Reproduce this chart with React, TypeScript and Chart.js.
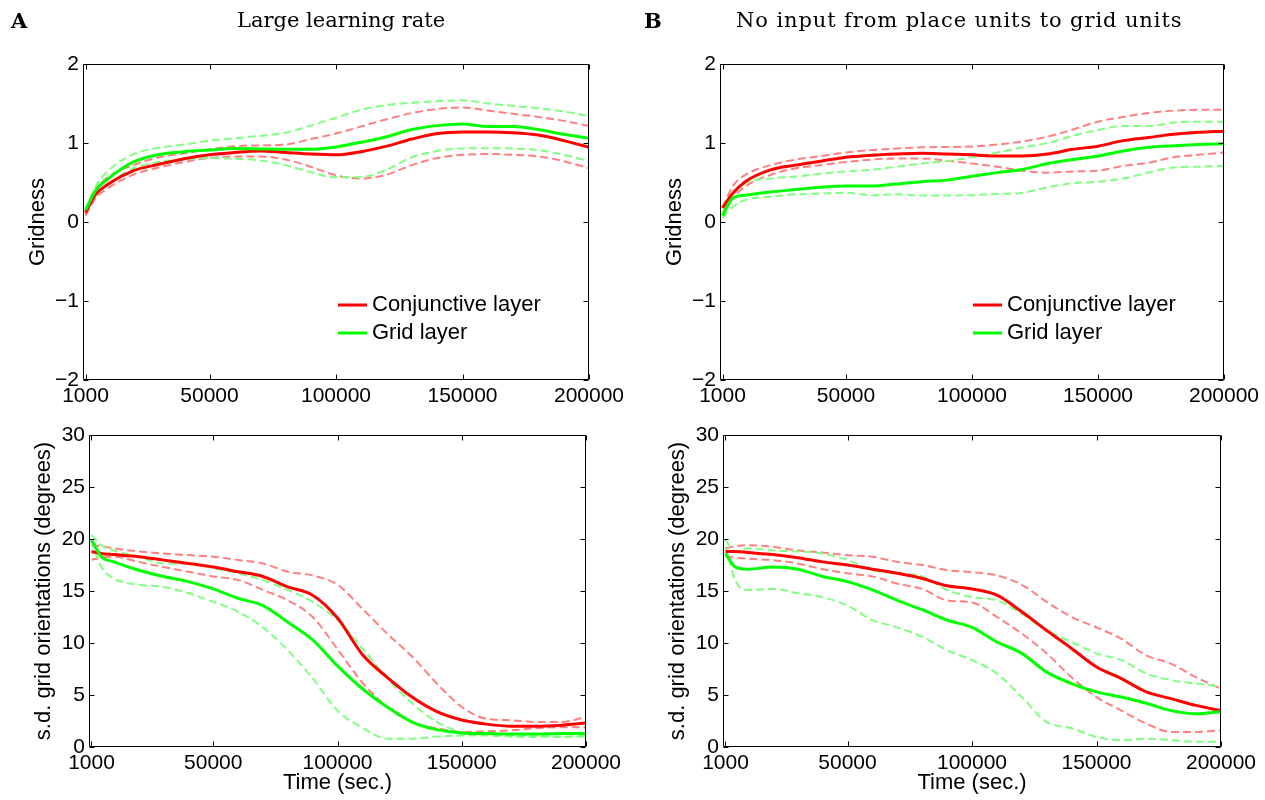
import React, { useEffect, useRef } from "react";
import { Chart, registerables } from "chart.js";

Chart.register(...registerables);

// ---------- shared axis data ----------
const timeSteps = [
  1000, 5000, 10000, 20000, 30000, 40000, 50000, 60000, 70000, 80000, 90000,
  100000, 110000, 120000, 130000, 140000, 150000, 160000, 170000, 180000, 190000, 200000,
];
const xTickValues = [1000, 50000, 100000, 150000, 200000];
const gridnessTicks = [-2, -1, 0, 1, 2];
const orientationTicks = [0, 5, 10, 15, 20, 25, 30];

const panelTitles = ["Large learning rate", "No input from place units to grid units"];
const panelLetters = ["A", "B"];
const seriesLabels = ["Conjunctive layer", "Grid layer"];
const yTitleTop = "Gridness";
const yTitleBottom = "s.d. grid orientations (degrees)";
const xTitleBottom = "Time (sec.)";

// ---------- Panel A, gridness ----------
const aGridMean = [0.15, 0.4, 0.55, 0.76, 0.855, 0.89, 0.91, 0.93, 0.925, 0.92, 0.92, 0.95, 1.01, 1.08, 1.17, 1.22, 1.24, 1.21, 1.21, 1.17, 1.11, 1.06];
const aGridUpper = [0.15, 0.45, 0.65, 0.86, 0.94, 0.98, 1.03, 1.06, 1.09, 1.13, 1.22, 1.32, 1.42, 1.48, 1.51, 1.53, 1.54, 1.5, 1.47, 1.44, 1.4, 1.34];
const aGridLower = [0.15, 0.33, 0.48, 0.68, 0.76, 0.79, 0.81, 0.8, 0.78, 0.72, 0.63, 0.565, 0.57, 0.66, 0.82, 0.9, 0.93, 0.935, 0.93, 0.91, 0.85, 0.77];
const aConjMean = [0.12, 0.35, 0.48, 0.65, 0.73, 0.8, 0.85, 0.88, 0.9, 0.88, 0.86, 0.85, 0.89, 0.96, 1.05, 1.12, 1.14, 1.14, 1.13, 1.1, 1.03, 0.945];
const aConjUpper = [0.1, 0.4, 0.57, 0.72, 0.82, 0.87, 0.92, 0.96, 0.97, 0.98, 1.05, 1.12, 1.21, 1.3, 1.38, 1.43, 1.45, 1.41, 1.37, 1.33, 1.28, 1.215];
const aConjLower = [0.08, 0.3, 0.43, 0.6, 0.69, 0.76, 0.81, 0.83, 0.83, 0.79, 0.7, 0.59, 0.55, 0.6, 0.72, 0.81, 0.85, 0.86, 0.85, 0.83, 0.77, 0.68];

// ---------- Panel B, gridness ----------
const bGridMean = [0.08, 0.3, 0.34, 0.38, 0.41, 0.44, 0.455, 0.455, 0.48, 0.51, 0.53, 0.58, 0.625, 0.665, 0.74, 0.79, 0.835, 0.9, 0.945, 0.965, 0.98, 0.99];
const bGridUpper = [0.1, 0.34, 0.49, 0.55, 0.575, 0.61, 0.64, 0.66, 0.7, 0.74, 0.77, 0.82, 0.88, 0.945, 1.0, 1.09, 1.165, 1.215, 1.215, 1.26, 1.27, 1.27];
const bGridLower = [0.05, 0.19, 0.28, 0.32, 0.35, 0.36, 0.37, 0.34, 0.35, 0.335, 0.335, 0.34, 0.355, 0.37, 0.44, 0.49, 0.51, 0.55, 0.625, 0.69, 0.7, 0.71];
const bConjMean = [0.18, 0.36, 0.51, 0.66, 0.72, 0.77, 0.82, 0.845, 0.86, 0.87, 0.86, 0.85, 0.835, 0.835, 0.86, 0.92, 0.96, 1.03, 1.07, 1.11, 1.135, 1.15];
const bConjUpper = [0.18, 0.45, 0.595, 0.72, 0.79, 0.835, 0.88, 0.91, 0.93, 0.945, 0.95, 0.955, 0.98, 1.02, 1.08, 1.17, 1.27, 1.33, 1.38, 1.41, 1.42, 1.42];
const bConjLower = [0.12, 0.3, 0.45, 0.595, 0.68, 0.72, 0.76, 0.79, 0.805, 0.805, 0.775, 0.74, 0.7, 0.65, 0.625, 0.64, 0.65, 0.71, 0.75, 0.82, 0.85, 0.88];

// ---------- Panel A, orientation s.d. ----------
const aOriGridMean = [19.9, 18.3, 17.8, 17.0, 16.4, 15.9, 15.2, 14.3, 13.6, 12.0, 10.3, 7.8, 5.6, 3.85, 2.4, 1.67, 1.35, 1.3, 1.25, 1.25, 1.3, 1.3];
const aOriGridUpper = [20.4, 19.4, 18.9, 18.3, 17.65, 17.65, 17.2, 16.7, 16.05, 15.1, 13.95, 12.2, 9.5, 6.6, 4.2, 2.4, 1.45, 1.3, 1.1, 1.1, 1.0, 1.1];
const aOriGridLower = [19.9, 17.3, 16.2, 15.6, 15.4, 14.8, 13.95, 13.0, 11.5, 9.3, 6.6, 3.5, 1.85, 0.8, 0.8, 1.0, 1.1, 1.1, 1.0, 0.96, 0.96, 1.0];
const aOriConjMean = [18.8, 18.6, 18.5, 18.3, 17.97, 17.65, 17.3, 16.85, 16.4, 15.4, 14.6, 12.4, 8.9, 6.7, 4.8, 3.4, 2.6, 2.2, 2.0, 2.0, 2.1, 2.3];
const aOriConjUpper = [19.4, 19.3, 19.1, 18.8, 18.6, 18.45, 18.3, 17.97, 17.65, 16.85, 16.5, 15.6, 13.3, 10.9, 8.7, 6.1, 3.85, 2.7, 2.57, 2.4, 2.4, 2.9];
const aOriConjLower = [18.0, 18.2, 18.3, 17.8, 17.3, 16.85, 16.4, 16.05, 15.1, 14.1, 12.5, 9.4, 6.2, 3.85, 2.4, 1.8, 1.45, 1.5, 1.6, 1.8, 1.9, 1.9];

// ---------- Panel B, orientation s.d. ----------
const bOriGridMean = [18.6, 17.3, 17.1, 17.3, 17.1, 16.4, 15.9, 15.1, 14.1, 13.2, 12.2, 11.5, 10.1, 9.0, 7.2, 6.1, 5.3, 4.8, 4.2, 3.5, 3.2, 3.4];
const bOriGridUpper = [19.9, 18.8, 19.1, 18.9, 18.8, 18.6, 17.97, 17.0, 16.7, 16.4, 15.1, 14.4, 14.1, 12.8, 11.2, 10.1, 9.0, 8.35, 7.07, 6.43, 6.1, 5.8];
const bOriGridLower = [19.25, 16.0, 15.1, 15.2, 14.8, 14.4, 13.6, 12.2, 11.5, 10.6, 9.3, 8.35, 7.07, 4.8, 2.4, 1.8, 0.96, 0.65, 0.8, 0.65, 0.5, 0.5];
const bOriConjMean = [18.8, 18.8, 18.7, 18.5, 18.2, 17.8, 17.5, 17.1, 16.7, 16.2, 15.5, 15.2, 14.6, 13.0, 11.2, 9.47, 7.7, 6.58, 5.3, 4.65, 4.0, 3.5];
const bOriConjUpper = [19.1, 19.3, 19.4, 19.25, 18.9, 18.7, 18.45, 18.3, 17.8, 17.5, 17.0, 16.8, 16.5, 15.6, 13.95, 12.5, 11.5, 10.4, 8.8, 8.0, 6.7, 5.6];
const bOriConjLower = [18.3, 18.2, 18.1, 17.97, 17.65, 17.1, 16.7, 16.4, 15.7, 15.2, 14.1, 13.9, 12.5, 10.9, 9.0, 6.7, 4.8, 3.5, 2.25, 1.45, 1.45, 1.6];

// ---------- styling ----------
const RED = "rgb(255,0,0)";
const GREEN = "rgb(0,255,0)";
const RED_LIGHT = "rgb(255,128,128)";
const GREEN_LIGHT = "rgb(128,255,128)";
const SANS = "'Liberation Sans', Arial, Helvetica, sans-serif";
const SERIF = "'DejaVu Serif', serif";
const W = 1265;
const H = 800;
const Y_AXIS_W = 60;

type Area = { l: number; t: number; r: number; b: number };
type PanelCfg = {
  key: string;
  area: Area;
  yMin: number;
  yMax: number;
  yTicks: number[];
  yTitle: string;
  xTitle: string | null;
  legend: boolean;
  gridMean: number[];
  gridUpper: number[];
  gridLower: number[];
  conjMean: number[];
  conjUpper: number[];
  conjLower: number[];
};

const panels: PanelCfg[] = [
  {
    key: "aTop", area: { l: 83, t: 64, r: 589, b: 380 }, yMin: -2, yMax: 2, yTicks: gridnessTicks,
    yTitle: yTitleTop, xTitle: null, legend: true,
    gridMean: aGridMean, gridUpper: aGridUpper, gridLower: aGridLower,
    conjMean: aConjMean, conjUpper: aConjUpper, conjLower: aConjLower,
  },
  {
    key: "bTop", area: { l: 720, t: 64, r: 1224, b: 380 }, yMin: -2, yMax: 2, yTicks: gridnessTicks,
    yTitle: yTitleTop, xTitle: null, legend: true,
    gridMean: bGridMean, gridUpper: bGridUpper, gridLower: bGridLower,
    conjMean: bConjMean, conjUpper: bConjUpper, conjLower: bConjLower,
  },
  {
    key: "aBottom", area: { l: 89, t: 435, r: 586, b: 747 }, yMin: 0, yMax: 30, yTicks: orientationTicks,
    yTitle: yTitleBottom, xTitle: xTitleBottom, legend: false,
    gridMean: aOriGridMean, gridUpper: aOriGridUpper, gridLower: aOriGridLower,
    conjMean: aOriConjMean, conjUpper: aOriConjUpper, conjLower: aOriConjLower,
  },
  {
    key: "bBottom", area: { l: 723, t: 435, r: 1221, b: 747 }, yMin: 0, yMax: 30, yTicks: orientationTicks,
    yTitle: yTitleBottom, xTitle: xTitleBottom, legend: false,
    gridMean: bOriGridMean, gridUpper: bOriGridUpper, gridLower: bOriGridLower,
    conjMean: bOriConjMean, conjUpper: bOriConjUpper, conjLower: bOriConjLower,
  },
];

const toXY = (vals: number[]) => vals.map((v, i) => ({ x: timeSteps[i], y: v }));
const fmtNum = (v: number) => (v < 0 ? "\u2212" + Math.abs(v) : String(v));

function makeAxesPlugin(cfg: PanelCfg) {
  return {
    id: "matlabAxes_" + cfg.key,
    afterDraw(chart: any) {
      const ctx = chart.ctx as CanvasRenderingContext2D;
      const { left, right, top, bottom } = chart.chartArea;
      const L = Math.round(left) + 0.5;
      const R = Math.round(right) - 0.5;
      const T = Math.round(top) + 0.5;
      const B = Math.round(bottom) - 0.5;
      const tickLen = 5;
      ctx.save();
      ctx.strokeStyle = "#000";
      ctx.lineWidth = 1;
      ctx.beginPath();
      ctx.rect(L, T, R - L, B - T);
      const xs = chart.scales.x;
      for (const t of xs.ticks) {
        const px = Math.round(xs.getPixelForValue(t.value)) + 0.5;
        ctx.moveTo(px, B);
        ctx.lineTo(px, B - tickLen);
        ctx.moveTo(px, T);
        ctx.lineTo(px, T + tickLen);
      }
      const ys = chart.scales.y;
      for (const t of ys.ticks) {
        const py = Math.round(ys.getPixelForValue(t.value)) + 0.5;
        ctx.moveTo(L, py);
        ctx.lineTo(L + tickLen, py);
        ctx.moveTo(R, py);
        ctx.lineTo(R - tickLen, py);
      }
      ctx.stroke();

      if (cfg.legend) {
        const items = chart.data.datasets.filter((d: any) => d.showInLegend);
        items.sort((a: any, b: any) => a.legendOrder - b.legendOrder);
        ctx.font = "22px " + SANS;
        ctx.textBaseline = "middle";
        ctx.textAlign = "left";
        items.forEach((d: any, i: number) => {
          const y = bottom - 75 + i * 28;
          ctx.beginPath();
          ctx.strokeStyle = d.borderColor;
          ctx.lineWidth = 3;
          ctx.moveTo(right - 251, y);
          ctx.lineTo(right - 222, y);
          ctx.stroke();
          ctx.fillStyle = "#000";
          ctx.fillText(d.label, right - 217, y);
        });
      }
      ctx.restore();
    },
  };
}

function PanelChart({ cfg }: { cfg: PanelCfg }) {
  const ref = useRef<HTMLCanvasElement | null>(null);
  useEffect(() => {
    if (!ref.current) return;
    const xH = cfg.xTitle ? 52 : 45;
    const solid = (label: string, data: number[], color: string, legendOrder: number) => ({
      label, data: toXY(data), borderColor: color, backgroundColor: color, borderWidth: 3,
      pointRadius: 0, fill: false, cubicInterpolationMode: "monotone", showInLegend: true, legendOrder,
    });
    const dashed = (label: string, data: number[], color: string) => ({
      label, data: toXY(data), borderColor: color, backgroundColor: color, borderWidth: 2,
      borderDash: [8, 4], pointRadius: 0, fill: false, cubicInterpolationMode: "monotone", showInLegend: false,
    });
    const chart = new Chart(ref.current, {
      type: "line",
      data: {
        datasets: [
          solid(seriesLabels[1], cfg.gridMean, GREEN, 1),
          solid(seriesLabels[0], cfg.conjMean, RED, 0),
          dashed(seriesLabels[1] + " upper", cfg.gridUpper, GREEN_LIGHT),
          dashed(seriesLabels[1] + " lower", cfg.gridLower, GREEN_LIGHT),
          dashed(seriesLabels[0] + " upper", cfg.conjUpper, RED_LIGHT),
          dashed(seriesLabels[0] + " lower", cfg.conjLower, RED_LIGHT),
        ] as any,
      },
      options: {
        responsive: false,
        animation: false,
        devicePixelRatio: 1,
        events: [],
        layout: {
          padding: {
            left: cfg.area.l - Y_AXIS_W,
            top: cfg.area.t,
            right: W - cfg.area.r,
            bottom: H - cfg.area.b - xH,
          },
        },
        plugins: {
          legend: { display: false },
          tooltip: { enabled: false },
          title: { display: false },
        },
        scales: {
          x: {
            type: "linear",
            min: 0,
            max: 200000,
            afterBuildTicks: (s: any) => {
              s.ticks = xTickValues.map((v) => ({ value: v }));
            },
            afterFit: (s: any) => {
              s.height = xH;
            },
            grid: { display: false, drawTicks: false },
            border: { display: false },
            ticks: {
              autoSkip: false,
              maxRotation: 0,
              padding: 4,
              color: "#000",
              font: { family: SANS, size: 21 },
              callback: (v: any) => String(v),
            },
            title: {
              display: !!cfg.xTitle,
              text: cfg.xTitle || "",
              color: "#000",
              font: { family: SANS, size: 22 },
              padding: { top: 0, bottom: 2.4 },
            },
          },
          y: {
            type: "linear",
            min: cfg.yMin,
            max: cfg.yMax,
            afterBuildTicks: (s: any) => {
              s.ticks = cfg.yTicks.map((v) => ({ value: v }));
            },
            afterFit: (s: any) => {
              s.width = Y_AXIS_W;
            },
            grid: { display: false, drawTicks: false },
            border: { display: false },
            ticks: {
              autoSkip: false,
              padding: 4,
              color: "#000",
              font: { family: SANS, size: 21 },
              callback: (v: any) => fmtNum(Number(v)),
            },
            title: {
              display: true,
              text: cfg.yTitle,
              color: "#000",
              font: { family: SANS, size: 22 },
              padding: { top: 1.8, bottom: 0 },
            },
          },
        },
      } as any,
      plugins: [makeAxesPlugin(cfg)],
    });
    return () => chart.destroy();
  }, [cfg]);
  return (
    <canvas
      ref={ref}
      width={W}
      height={H}
      style={{ position: "absolute", left: 0, top: 0, width: W, height: H }}
    />
  );
}

const headStyle: React.CSSProperties = {
  position: "absolute",
  top: 10,
  fontFamily: SERIF,
  fontSize: 21,
  lineHeight: "21px",
  color: "#000",
  whiteSpace: "nowrap",
};

export default function App() {
  return (
    <div style={{ position: "absolute", left: 0, top: 0, width: W, height: H, background: "#fff", overflow: "hidden" }}>
      {panels.map((p) => (
        <PanelChart key={p.key} cfg={p} />
      ))}
      <div style={{ ...headStyle, left: 11, fontWeight: "bold" }}>{panelLetters[0]}</div>
      <div style={{ ...headStyle, left: 237 }}>{panelTitles[0]}</div>
      <div style={{ ...headStyle, left: 644, fontWeight: "bold" }}>{panelLetters[1]}</div>
      <div style={{ ...headStyle, left: 736, letterSpacing: "0.9px" }}>{panelTitles[1]}</div>
    </div>
  );
}
